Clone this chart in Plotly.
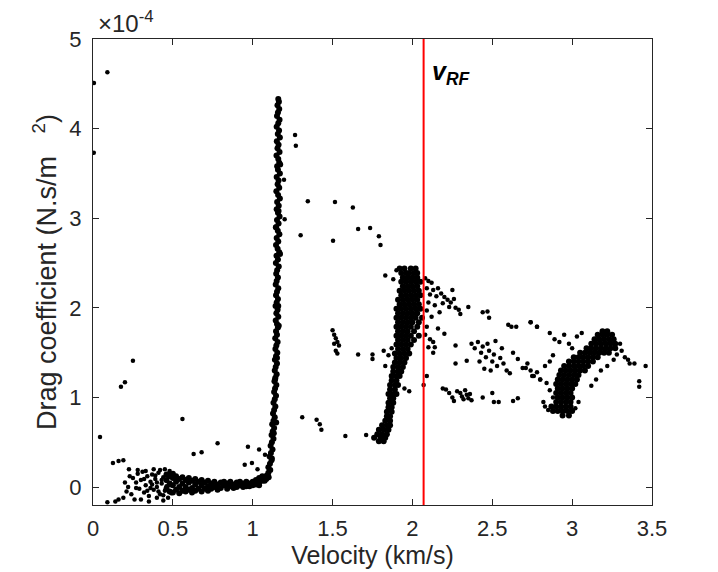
"""
Coeficiente de arrasto vs velocidade (scatter) com linha de referência v_RF
"""
import plotly.graph_objects as go

# valores em y estão em unidades de 1e-4 N.s/m^2
v_rf = 2.07

# pontos isolados
outlier_x = [0.006, 0.09, 0.005, 1.265, 1.27, 1.196, 1.20, 1.30, 1.345, 1.515, 1.503, 1.627, 1.66,
             1.735, 1.79, 1.80, 1.83, 0.044, 0.25, 0.175, 0.20, 0.56, 0.125, 0.16, 0.19, 0.225,
             0.63, 0.68, 0.78, 0.97, 1.04, 0.95, 0.995, 1.03, 1.077, 1.31, 1.40, 1.42, 1.43, 1.58,
             1.71, 1.50, 1.51, 1.52, 1.53, 1.51, 1.54, 1.52, 1.53, 1.66, 1.75, 1.75, 1.82]
outlier_y = [4.51, 4.63, 3.73, 3.93, 3.81, 3.43, 2.99, 2.81, 3.19, 3.18, 2.75, 3.12, 2.88,
             2.89, 2.80, 2.70, 2.36, 0.56, 1.41, 1.12, 1.17, 0.76, 0.27, 0.29, 0.30, 0.20,
             0.37, 0.39, 0.49, 0.45, 0.42, 0.25, 0.27, 0.20, 0.36, 0.78, 0.75, 0.70, 0.64, 0.57,
             0.58, 1.75, 1.70, 1.66, 1.62, 1.60, 1.58, 1.52, 1.49, 1.48, 1.48, 1.43, 1.52]

# faixa vertical perto de 1.16 km/s
band_x = [1.160, 1.164, 1.155, 1.166, 1.158, 1.152, 1.168, 1.160, 1.150, 1.165, 1.157, 1.170, 1.151,
          1.162, 1.155, 1.168, 1.149, 1.160, 1.166, 1.153, 1.158, 1.170, 1.150, 1.162, 1.156, 1.166,
          1.148, 1.159, 1.170, 1.153, 1.163, 1.150, 1.158, 1.168, 1.152, 1.162, 1.147, 1.157, 1.167,
          1.150, 1.160, 1.146, 1.156, 1.166, 1.149, 1.158, 1.145, 1.163, 1.153, 1.147,
          1.158, 1.150, 1.144, 1.160, 1.152, 1.146, 1.158, 1.150, 1.143, 1.156, 1.148, 1.160, 1.144,
          1.152, 1.158, 1.146, 1.152, 1.141, 1.156, 1.148, 1.142, 1.154, 1.146, 1.139, 1.152, 1.144,
          1.138, 1.150, 1.142, 1.136, 1.148, 1.140, 1.134, 1.146, 1.138,
          1.130, 1.142, 1.134, 1.127, 1.138, 1.130, 1.122, 1.134, 1.125, 1.118, 1.130, 1.120, 1.112,
          1.124, 1.114, 1.106, 1.118, 1.108, 1.098, 1.110, 1.098, 1.088, 1.100, 1.085, 1.075,
          1.172, 1.162, 1.171, 1.145, 1.160, 1.152, 1.163, 1.140, 1.147, 1.132, 1.120]
band_y = [4.33, 4.30, 4.26, 4.22, 4.18, 4.14, 4.10, 4.06, 4.02, 3.98, 3.94, 3.90, 3.86,
          3.82, 3.78, 3.74, 3.70, 3.66, 3.62, 3.58, 3.54, 3.50, 3.46, 3.42, 3.38, 3.34,
          3.30, 3.26, 3.22, 3.18, 3.14, 3.10, 3.06, 3.02, 2.98, 2.94, 2.90, 2.86, 2.82,
          2.78, 2.74, 2.70, 2.66, 2.62, 2.58, 2.54, 2.50, 2.46, 2.42, 2.38,
          2.34, 2.30, 2.26, 2.22, 2.18, 2.14, 2.10, 2.06, 2.02, 1.98, 1.94, 1.90, 1.86,
          1.82, 1.78, 1.74, 1.70, 1.66, 1.62, 1.58, 1.54, 1.50, 1.46, 1.42, 1.38, 1.34,
          1.30, 1.26, 1.22, 1.18, 1.14, 1.10, 1.06, 1.02, 0.98,
          0.94, 0.90, 0.86, 0.82, 0.78, 0.74, 0.70, 0.66, 0.62, 0.58, 0.54, 0.50, 0.46,
          0.42, 0.38, 0.34, 0.30, 0.26, 0.22, 0.19, 0.16, 0.13, 0.11, 0.09, 0.07,
          3.60, 3.08, 2.60, 2.90, 2.02, 1.44, 1.80, 1.20, 0.72, 0.60, 0.32]

# patamar horizontal 0.5 - 1.07 km/s  (x, [ys])
flat_cols = [(0.46, [0.08, -0.02, 0.14]), (0.48, [0.04, 0.12, -0.05]),
             (0.50, [0.10, 0.02, -0.06, 0.15]), (0.52, [0.06, -0.03, 0.12]), (0.54, [0.09, 0.00, -0.07]),
             (0.56, [0.04, -0.04, 0.11]), (0.58, [0.08, 0.00, -0.05]), (0.60, [0.05, -0.03, 0.10]),
             (0.62, [0.07, -0.01, -0.06]), (0.64, [0.03, 0.09, -0.04]), (0.66, [0.06, -0.02]),
             (0.68, [0.02, 0.08, -0.05]), (0.70, [0.05, -0.02]), (0.72, [0.01, 0.07, -0.04]),
             (0.74, [0.04, -0.02]), (0.76, [0.00, 0.06]), (0.78, [0.03, -0.03]), (0.80, [0.05, -0.01]),
             (0.82, [0.02, 0.06]), (0.84, [-0.02, 0.04]), (0.86, [0.01, 0.06]), (0.88, [0.03, -0.01]),
             (0.90, [0.05, 0.00]), (0.92, [0.02, 0.06]), (0.94, [0.04, 0.00]), (0.96, [0.01, 0.06]),
             (0.98, [0.04, 0.01]), (1.00, [0.06, 0.02]), (1.02, [0.03, 0.08]), (1.04, [0.05, 0.10, 0.02]),
             (1.06, [0.07, 0.12])]

# nuvem dispersa em baixas velocidades
low_x = [0.20, 0.21, 0.22, 0.19, 0.24, 0.25, 0.27, 0.28, 0.29, 0.30, 0.31, 0.32, 0.33, 0.34, 0.35, 0.36,
         0.37, 0.38, 0.39, 0.40, 0.41, 0.42, 0.43, 0.44, 0.45, 0.46, 0.47, 0.47, 0.48, 0.49, 0.30, 0.35,
         0.40, 0.44, 0.26, 0.14, 0.16, 0.09, 0.28, 0.33, 0.38, 0.42, 0.48, 0.23, 0.36, 0.45,
         0.34, 0.39, 0.43, 0.41, 0.37, 0.44, 0.46, 0.32, 0.27, 0.40]
low_y = [0.05, -0.05, 0.00, -0.12, -0.08, 0.10, 0.05, 0.15, -0.02, 0.08, 0.17, -0.06, 0.02, 0.12, -0.10, 0.06,
         0.14, -0.03, 0.09, 0.00, 0.16, -0.08, 0.04, 0.11, -0.04, 0.07, -0.12, 0.15, 0.02, -0.07, -0.14, -0.16,
         -0.12, -0.15, -0.14, -0.16, -0.14, -0.17, 0.19, 0.18, 0.20, 0.19, 0.18, 0.12, -0.01, 0.20,
         -0.04, 0.13, 0.08, -0.05, 0.03, -0.09, 0.01, 0.09, -0.01, 0.05]

# aglomerado em torno de 2 km/s  (y, [xs])
mid_rows = [(2.44, [1.92, 1.95, 1.99, 2.02]), (2.39, [1.93, 1.96, 1.98, 2.01, 2.03]),
            (2.34, [1.94, 1.97, 2.00, 2.03]), (2.29, [1.93, 1.96, 1.99, 2.02, 2.05]),
            (2.24, [1.94, 1.97, 2.00, 2.03]), (2.19, [1.92, 1.95, 1.98, 2.01, 2.04]),
            (2.14, [1.93, 1.96, 1.99, 2.02, 2.05]), (2.09, [1.91, 1.94, 1.97, 2.00, 2.03]),
            (2.04, [1.92, 1.95, 1.98, 2.01, 2.04]), (1.99, [1.90, 1.93, 1.96, 1.99, 2.02, 2.05]),
            (1.94, [1.91, 1.94, 1.97, 2.00, 2.03]), (1.89, [1.90, 1.93, 1.96, 1.99, 2.02, 2.06]),
            (1.84, [1.91, 1.94, 1.97, 2.00, 2.04]), (1.79, [1.90, 1.93, 1.96, 1.99, 2.03]),
            (1.74, [1.91, 1.94, 1.97, 2.01]), (1.69, [1.90, 1.93, 1.96, 1.99, 2.04]),
            (1.64, [1.91, 1.94, 1.97, 2.01]), (1.59, [1.90, 1.93, 1.96, 1.99]),
            (1.54, [1.91, 1.94, 1.97]), (1.49, [1.89, 1.92, 1.95, 1.98]), (1.44, [1.90, 1.93, 1.96]),
            (1.39, [1.89, 1.92, 1.95]), (1.34, [1.88, 1.91, 1.94]), (1.29, [1.88, 1.91, 1.93]),
            (1.24, [1.87, 1.90, 1.92]), (1.19, [1.87, 1.90]), (1.14, [1.86, 1.89, 1.91]),
            (1.09, [1.86, 1.89]), (1.04, [1.85, 1.88, 1.90]), (0.99, [1.86, 1.88]),
            (0.94, [1.85, 1.88]), (0.89, [1.85, 1.87]), (0.84, [1.84, 1.87]), (0.79, [1.84, 1.86]),
            (0.74, [1.83, 1.86]), (0.69, [1.81, 1.84, 1.86]), (0.64, [1.79, 1.82, 1.85]),
            (0.59, [1.78, 1.81, 1.84]), (0.55, [1.76, 1.80, 1.83]), (0.51, [1.79, 1.82])]

# dispersão entre 2 e 2.8 km/s
spread_x = [1.87, 1.85, 1.83, 1.95, 1.98, 2.07, 2.09, 1.90, 1.88,
            2.08, 2.10, 2.12, 2.09, 2.13, 2.16, 2.11, 2.15, 2.18, 2.20, 2.22, 2.19, 2.24, 2.26, 2.10,
            2.14, 2.23, 2.27, 2.29, 2.25, 2.09, 2.17, 2.12, 2.30, 2.35, 2.44, 2.47, 2.48, 2.60, 2.62,
            2.65, 2.74, 2.78, 2.09, 2.16, 2.20, 2.10, 2.14, 2.08, 2.11, 2.13, 2.13,
            2.27, 2.27, 2.34, 2.37, 2.39, 2.41, 2.43, 2.44, 2.46, 2.47, 2.48, 2.50, 2.51, 2.52, 2.53,
            2.42, 2.45, 2.49, 2.55, 2.57, 2.59, 2.61, 2.56, 2.63, 2.69, 2.71, 2.75, 2.78, 2.80, 2.66,
            2.19, 2.21, 2.23, 2.25, 2.26, 2.28, 2.30, 2.31, 2.32, 2.33, 2.34, 2.35, 2.36, 2.37, 2.44,
            2.50, 2.51, 2.54, 2.63, 2.66]
spread_y = [1.55, 1.47, 1.35, 1.10, 1.07, 1.14, 1.24, 2.42, 2.32,
            2.33, 2.30, 2.28, 2.22, 2.20, 2.22, 2.15, 2.13, 2.16, 2.12, 2.09, 2.05, 2.06, 2.10, 2.06,
            2.03, 2.01, 2.00, 1.98, 2.20, 1.97, 1.95, 1.90, 1.93, 2.01, 1.95, 1.96, 1.89, 1.81, 1.79,
            1.79, 1.84, 1.79, 1.79, 1.77, 1.71, 1.56, 1.56, 1.70, 1.65, 1.62, 1.50,
            1.58, 1.38, 1.41, 1.60, 1.55, 1.62, 1.50, 1.57, 1.45, 1.60, 1.52, 1.40, 1.48, 1.63, 1.35,
            1.40, 1.32, 1.30, 1.44, 1.38, 1.30, 1.27, 1.55, 1.50, 1.33, 1.33, 1.24, 1.28, 1.20, 1.43,
            1.10, 1.09, 1.05, 1.00, 0.96, 1.07, 1.05, 1.01, 0.98, 1.08, 1.03, 0.99, 1.04, 0.97, 1.00,
            1.05, 0.95, 0.95, 0.96, 0.99]

# aglomerado em torno de 3 km/s  (y, [xs])
high_rows = [(0.80, [2.94, 2.98]), (0.85, [2.88, 2.91, 2.94, 2.97, 3.00]),
             (0.90, [2.87, 2.90, 2.93, 2.96, 2.99]), (0.95, [2.90, 2.93, 2.96, 2.99]),
             (1.00, [2.91, 2.94, 2.97, 3.00]), (1.05, [2.90, 2.93, 2.96, 2.99]),
             (1.10, [2.91, 2.94, 2.97, 3.00]), (1.15, [2.90, 2.93, 2.96, 2.99, 3.02]),
             (1.20, [2.91, 2.94, 2.97, 3.00, 3.03]), (1.25, [2.92, 2.95, 2.98, 3.01, 3.04]),
             (1.30, [2.93, 2.96, 2.99, 3.02, 3.05, 3.08]), (1.35, [2.95, 2.98, 3.01, 3.04, 3.07, 3.10]),
             (1.40, [2.98, 3.01, 3.04, 3.07, 3.10, 3.13]), (1.45, [3.01, 3.04, 3.07, 3.10, 3.13, 3.16]),
             (1.50, [3.05, 3.08, 3.11, 3.14, 3.17, 3.20, 3.23]),
             (1.55, [3.09, 3.12, 3.15, 3.18, 3.21, 3.24, 3.27]),
             (1.60, [3.12, 3.15, 3.18, 3.21, 3.24, 3.27]), (1.65, [3.14, 3.17, 3.20, 3.23, 3.26]),
             (1.70, [3.16, 3.19, 3.22, 3.25]), (1.74, [3.19, 3.22])]

high_x = [2.72, 2.74, 2.76, 2.80, 2.83, 2.86, 2.88, 2.84, 2.86, 2.89, 2.92, 2.95, 2.98, 3.00, 3.03, 3.06,
          2.74, 2.78, 3.30, 3.31, 3.33, 3.35, 3.36, 3.39, 3.46, 3.42, 3.42, 3.12, 3.15, 3.18, 3.22, 3.26,
          3.28, 2.83, 2.85, 2.82, 3.02, 3.04, 2.88, 2.86]
high_y = [1.38, 1.30, 1.24, 1.20, 1.35, 1.40, 1.47, 1.16, 1.72, 1.65, 1.62, 1.70, 1.60, 1.55, 1.68, 1.72,
          1.84, 1.79, 1.60, 1.52, 1.45, 1.42, 1.38, 1.38, 1.35, 1.18, 1.12, 1.13, 1.20, 1.30, 1.35, 1.42,
          1.48, 0.90, 0.86, 0.95, 0.88, 0.95, 1.00, 1.08]

# pontos esparsos
sparse_x = outlier_x + low_x + spread_x + high_x
sparse_y = outlier_y + low_y + spread_y + high_y

# regiões densas
dense_x = list(band_x)
dense_y = list(band_y)
for x, col in flat_cols:
    dense_x += [x] * len(col)
    dense_y += col
for y, row in mid_rows + high_rows:
    dense_x += row
    dense_y += [y] * len(row)

FONT = "Liberation Sans, Arial, sans-serif"
AXIS = "#262626"

fig = go.Figure()
fig.add_trace(go.Scatter(x=dense_x, y=dense_y, mode="markers",
                         marker=dict(size=6, color="black"), hoverinfo="skip"))
fig.add_trace(go.Scatter(x=sparse_x, y=sparse_y, mode="markers",
                         marker=dict(size=4.5, color="black"), hoverinfo="skip"))
fig.add_shape(type="line", x0=v_rf, x1=v_rf, xref="x", y0=0, y1=1, yref="paper",
              line=dict(color="#ff0000", width=2))
fig.add_annotation(x=v_rf + 0.04, y=4.62, xref="x", yref="y", xanchor="left", showarrow=False,
                   text="<b><i>v<sub>RF</sub></i></b>", font=dict(family=FONT, size=25, color="black"))
fig.add_annotation(x=0.005, y=1.0, xref="paper", yref="paper", xanchor="left", yanchor="bottom",
                   showarrow=False, text="×10<sup>-4</sup>", font=dict(family=FONT, size=24, color=AXIS))

axis_style = dict(showline=True, linecolor=AXIS, linewidth=1, mirror="ticks", ticks="inside",
                  ticklen=6, tickcolor=AXIS, showgrid=False, zeroline=False, automargin=False,
                  tickfont=dict(family=FONT, size=22, color=AXIS))
fig.update_xaxes(range=[0, 3.5], tickvals=[0, 0.5, 1, 1.5, 2, 2.5, 3, 3.5],
                 ticktext=["0", "0.5", "1", "1.5", "2", "2.5", "3", "3.5"], ticklabelstandoff=4,
                 title=dict(text="Velocity (km/s)", font=dict(family=FONT, size=25, color=AXIS), standoff=2),
                 **axis_style)
fig.update_yaxes(range=[-0.2, 5], tickvals=[0, 1, 2, 3, 4, 5], ticklabelstandoff=6,
                 title=dict(text="Drag coefficient (N.s/m&nbsp;&nbsp;&nbsp;<sup>2</sup>)",
                            font=dict(family=FONT, size=27, color=AXIS), standoff=4),
                 **axis_style)
# a página tem margem de 8px, por isso a figura é um pouco menor que a janela
fig.update_layout(width=710, height=564, margin=dict(l=85, r=66, t=31, b=67),
                  plot_bgcolor="white", paper_bgcolor="white", showlegend=False)

fig.write_html("out.html")
